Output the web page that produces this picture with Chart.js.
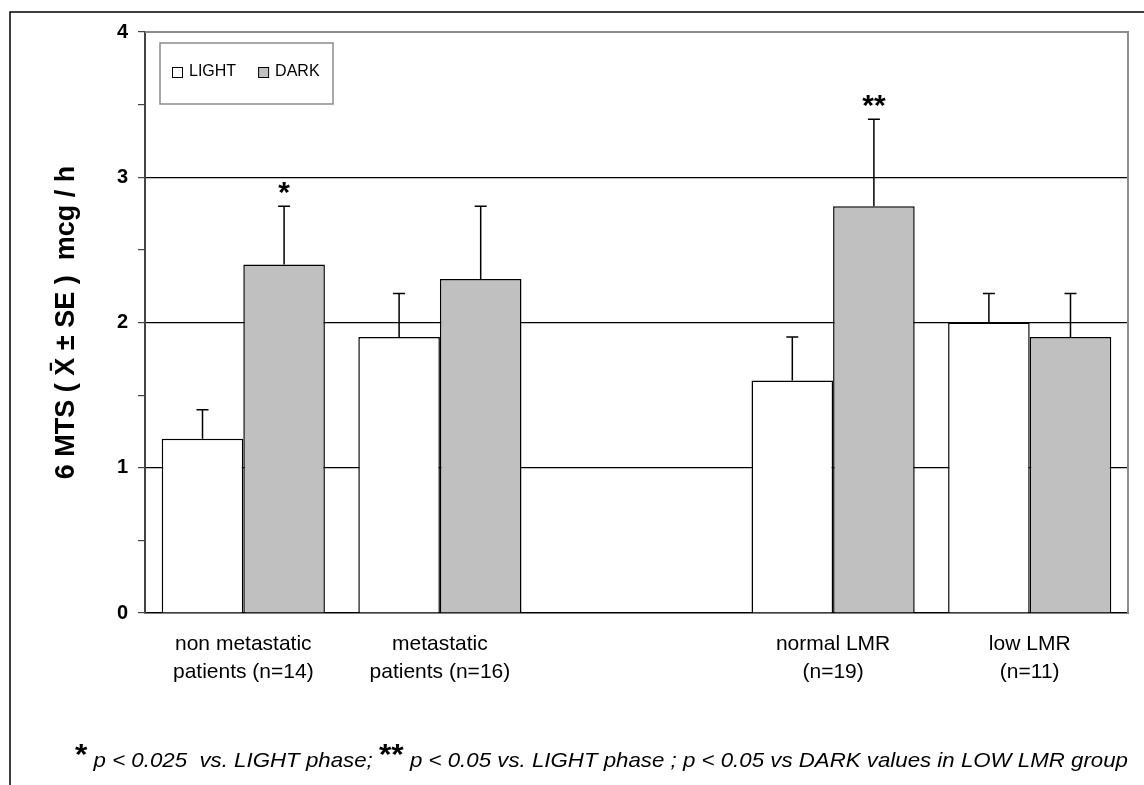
<!DOCTYPE html>
<html>
<head>
<meta charset="utf-8">
<script src="https://cdn.jsdelivr.net/npm/chart.js@4.4.0/dist/chart.umd.min.js"></script>
<style>
  body { margin: 0; background: #fff; }
  #wrap { width: 1144px; height: 785px; position: relative; }
</style>
</head>
<body>
<div id="wrap"><canvas id="chart"></canvas></div>
<script>
// categories (the empty one is the gap between the two groups)
const categorias = [
  ["non metastatic", "patients (n=14)"],
  ["metastatic", "patients (n=16)"],
  "",
  ["normal LMR", "(n=19)"],
  ["low LMR", "(n=11)"]
];
const valoresLight = [1.2, 1.9, null, 1.6, 2.0];
const valoresDark  = [2.4, 2.3, null, 2.8, 1.9];
const errorLight   = [0.2, 0.3, null, 0.3, 0.2];
const errorDark    = [0.4, 0.5, null, 0.6, 0.3];
const marcasDark   = ["*", "", "", "**", ""];
const ticksY       = [0, 1, 2, 3, 4];

const fuente = "'Liberation Sans', Arial, sans-serif";
Chart.defaults.font.family = fuente;
Chart.defaults.color = "#000";

// error bars (upper only) + stars
const barrasError = {
  id: "barrasError",
  afterDatasetsDraw(chart) {
    const ctx = chart.ctx;
    const y = chart.scales.y;
    chart.data.datasets.forEach((ds, di) => {
      const meta = chart.getDatasetMeta(di);
      meta.data.forEach((el, i) => {
        const v = ds.data[i];
        const e = ds.errores[i];
        if (v == null || e == null) return;
        const yTop = y.getPixelForValue(v + e);
        ctx.save();
        ctx.strokeStyle = "#000";
        ctx.lineWidth = 1.5;
        ctx.beginPath();
        ctx.moveTo(el.x, el.y);
        ctx.lineTo(el.x, yTop);
        ctx.moveTo(el.x - 6, yTop);
        ctx.lineTo(el.x + 6, yTop);
        ctx.stroke();
        const m = ds.marcas ? ds.marcas[i] : "";
        if (m) {
          ctx.fillStyle = "#000";
          ctx.font = "bold 30px " + fuente;
          ctx.textAlign = "center";
          ctx.textBaseline = "alphabetic";
          ctx.fillText(m, el.x, yTop - 4);
        }
        ctx.restore();
      });
    });
  }
};

// frame, plot border, legend box and footnote
const extras = {
  id: "extras",
  afterDraw(chart) {
    const ctx = chart.ctx;
    const a = chart.chartArea;
    ctx.save();
    // outer frame (left + top)
    ctx.strokeStyle = "#000";
    ctx.lineWidth = 1.5;
    ctx.beginPath();
    ctx.moveTo(10, 800);
    ctx.lineTo(10, 12);
    ctx.lineTo(1146, 12);
    ctx.stroke();
    // plot area border top + right
    ctx.strokeStyle = "#8c8c8c";
    ctx.lineWidth = 2;
    ctx.beginPath();
    ctx.moveTo(a.left, a.top);
    ctx.lineTo(a.right, a.top);
    ctx.lineTo(a.right, a.bottom);
    ctx.stroke();

    // legend
    ctx.strokeStyle = "#8c8c8c";
    ctx.lineWidth = 1.5;
    ctx.strokeRect(160, 43, 173, 61);
    ctx.font = "16px " + fuente;
    ctx.textBaseline = "middle";
    ctx.textAlign = "left";
    let x = 172;
    chart.data.datasets.forEach(ds => {
      ctx.fillStyle = ds.backgroundColor;
      ctx.fillRect(x, 67, 10, 10);
      ctx.strokeStyle = "#000";
      ctx.lineWidth = 1;
      ctx.strokeRect(x + 0.5, 67.5, 10, 10);
      ctx.fillStyle = "#000";
      ctx.fillText(ds.label, x + 17, 72);
      x += 17 + ctx.measureText(ds.label).width + 22;
    });

    // footnote
    const partes = [
      { t: "*", f: "bold 30px " + fuente, dy: -3 },
      { t: " p < 0.025  vs. LIGHT phase; ", f: "italic 21px " + fuente, dy: 0 },
      { t: "**", f: "bold 30px " + fuente, dy: -3 },
      { t: " p < 0.05 vs. LIGHT phase ; p < 0.05 vs DARK values in LOW LMR group", f: "italic 21px " + fuente, dy: 0 }
    ];
    let total = 0;
    partes.forEach(p => { ctx.font = p.f; total += ctx.measureText(p.t).width; });
    const escala = (1128 - 75) / total;
    ctx.translate(75, 767);
    ctx.scale(escala, 1);
    ctx.textBaseline = "alphabetic";
    ctx.fillStyle = "#000";
    let fx = 0;
    partes.forEach(p => {
      ctx.font = p.f;
      ctx.fillText(p.t, fx, p.dy);
      fx += ctx.measureText(p.t).width;
    });
    ctx.restore();
  }
};

const data = {
  labels: categorias,
  datasets: [
    {
      label: "LIGHT",
      data: valoresLight,
      errores: errorLight,
      backgroundColor: "#ffffff",
      borderColor: "#000",
      borderWidth: 1.5
    },
    {
      label: "DARK",
      data: valoresDark,
      errores: errorDark,
      marcas: marcasDark,
      backgroundColor: "#c0c0c0",
      borderColor: "#000",
      borderWidth: 1.5
    }
  ]
};

const config = {
  type: "bar",
  data: data,
  options: {
    responsive: true,
    maintainAspectRatio: false,
    animation: false,
    layout: { padding: { left: 0, top: 32, right: 16, bottom: 0 } },
    datasets: { bar: { barPercentage: 1, categoryPercentage: 0.83 } },
    plugins: { legend: { display: false }, tooltip: { enabled: false } },
    scales: {
      x: {
        grid: { display: false },
        border: { display: true, color: "#000", width: 1.5 },
        ticks: { font: { size: 21, lineHeight: 1.35 }, padding: 9, maxRotation: 0, autoSkip: false },
        afterFit: s => { s.height = 172; }
      },
      y: {
        min: 0,
        max: 4,
        ticks: {
          stepSize: 0.5,
          padding: 10,
          font: { size: 20, weight: "bold" },
          callback: v => ticksY.includes(v) ? String(v) : ""
        },
        grid: {
          color: c => (c.tick && Number.isInteger(c.tick.value) && c.tick.value > 0 && c.tick.value < 4) ? "#000" : "rgba(0,0,0,0)",
          tickColor: "#444",
          tickLength: 7,
          lineWidth: 1.2
        },
        border: { display: true, color: "#444", width: 2 },
        title: {
          display: true,
          text: "6 MTS ( X\u0304 ± SE )  mcg / h",
          font: { size: 27, weight: "bold" },
          padding: { top: 50, bottom: 0 }
        },
        afterFit: s => { s.width = 145; }
      }
    }
  },
  plugins: [barrasError, extras]
};

const chart = new Chart(document.getElementById("chart").getContext("2d"), config);
</script>
</body>
</html>
